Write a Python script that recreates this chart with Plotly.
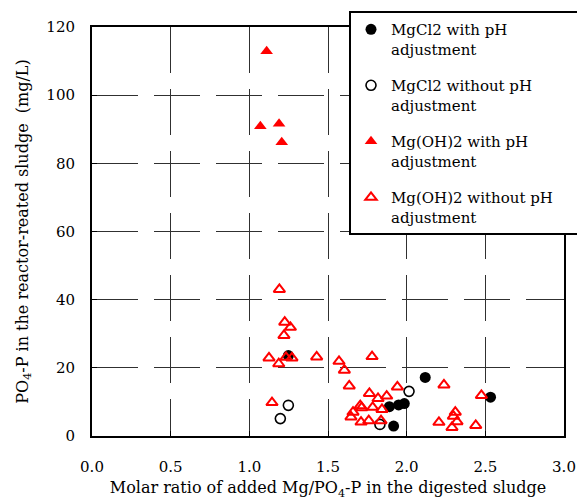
import plotly.graph_objects as go

# MgCl2 with pH adjustment
mgcl_ph_x = [1.248, 2.118, 2.533, 1.890, 1.949, 1.985, 1.917]
mgcl_ph_y = [23.6, 17.2, 11.4, 8.6, 9.1, 9.5, 2.9]

# MgCl2 without pH adjustment
mgcl_noph_x = [1.248, 1.197, 2.015, 1.830]
mgcl_noph_y = [9.0, 5.1, 13.1, 3.4]

# Mg(OH)2 with pH adjustment
mgoh_ph_x = [1.110, 1.070, 1.189, 1.206]
mgoh_ph_y = [112.9, 90.9, 91.6, 86.2]

# Mg(OH)2 without pH adjustment
mgoh_noph_x = [1.191, 1.225, 1.261, 1.220, 1.125, 1.187, 1.233, 1.271, 1.428,
               1.570, 1.604, 1.780, 1.635, 1.144, 1.763, 1.818, 1.873, 1.941,
               2.237, 2.475, 1.705, 1.714, 1.784, 1.843, 1.659, 1.646, 1.710,
               1.759, 1.837, 2.205, 2.309, 2.297, 2.320, 2.288, 2.439]
mgoh_noph_y = [43.0, 33.4, 31.9, 29.5, 22.9, 21.2, 23.1, 22.9, 23.2,
               21.9, 19.3, 23.3, 14.7, 9.8, 12.5, 11.0, 11.7, 14.4,
               15.0, 11.9, 8.9, 8.3, 8.4, 7.8, 7.0, 5.6, 4.1,
               4.5, 4.5, 4.0, 7.0, 5.8, 4.2, 2.5, 3.1]

x_ticks = [0.0, 0.5, 1.0, 1.5, 2.0, 2.5, 3.0]
x_ticklabels = ["0.0", "0.5", "1.0", "1.5", "2.0", "2.5", "3.0"]
y_ticks = [0, 20, 40, 60, 80, 100, 120]

legend_names = [
    "MgCl2 with pH<br>adjustment",
    "MgCl2 without pH<br>adjustment",
    "Mg(OH)2 with pH<br>adjustment",
    "Mg(OH)2 without pH\u00a0\u00a0\u00a0\u00a0<br>adjustment",
]

x_title = "Molar ratio of added Mg/PO<sub>4</sub>-P in the digested sludge\u00a0\u00a0\u00a0"
y_title = "PO<sub>4</sub>-P in the reactor-reated sludge\u00a0\u00a0(mg/L)\u00a0\u00a0"

FONT = "DejaVu Serif, Liberation Serif, serif"

fig = go.Figure()
fig.add_trace(go.Scatter(
    x=mgcl_ph_x, y=mgcl_ph_y, mode="markers", legendgroup="a",
    name=legend_names[0],
    marker=dict(symbol="circle", size=11, color="black"),
))
fig.add_trace(go.Scatter(
    x=mgcl_noph_x, y=mgcl_noph_y, mode="markers", legendgroup="b",
    name=legend_names[1],
    marker=dict(symbol="circle-open", size=10, color="black", line=dict(width=1.6)),
))
fig.add_trace(go.Scatter(
    x=mgoh_ph_x, y=mgoh_ph_y, mode="markers", legendgroup="c",
    name=legend_names[2],
    marker=dict(symbol="triangle-up", size=11, color="red"),
))
fig.add_trace(go.Scatter(
    x=mgoh_noph_x, y=mgoh_noph_y, mode="markers", legendgroup="d",
    name=legend_names[3],
    marker=dict(symbol="triangle-up-open", size=10, color="red", line=dict(width=2)),
))

fig.update_layout(
    width=585, height=503,
    margin=dict(l=84, r=29, t=19, b=75, autoexpand=False),
    paper_bgcolor="white", plot_bgcolor="white",
    font=dict(family=FONT, size=15, color="black"),
    showlegend=True,
    legend=dict(
        x=0.5445, y=1.039, xanchor="left", yanchor="top",
        bgcolor="white", bordercolor="black", borderwidth=2,
        font=dict(family=FONT, size=15, color="black"),
        traceorder="grouped", tracegroupgap=14, valign="top",
    ),
)
fig.update_xaxes(
    range=[0, 3], tickvals=x_ticks, ticktext=x_ticklabels,
    showline=True, linecolor="black", linewidth=2, mirror=True,
    ticks="inside", ticklen=5, tickcolor="black",
    showgrid=True, gridcolor="#303030", gridwidth=1, griddash="46px,16px",
    zeroline=False, ticklabelstandoff=16, automargin=False,
    tickfont=dict(family=FONT, size=15, color="black"),
    title=dict(text=x_title, font=dict(family=FONT, size=16, color="black"), standoff=7),
)
fig.update_yaxes(
    range=[0, 120], tickvals=y_ticks,
    showline=True, linecolor="black", linewidth=2, mirror=True,
    ticks="inside", ticklen=5, tickcolor="black",
    showgrid=True, gridcolor="#303030", gridwidth=1, griddash="46px,16px",
    zeroline=False, ticklabelstandoff=12, automargin=False,
    tickfont=dict(family=FONT, size=15, color="black"),
    title=dict(text=y_title, font=dict(family=FONT, size=16, color="black"), standoff=14),
)

fig.write_html("out.html")
